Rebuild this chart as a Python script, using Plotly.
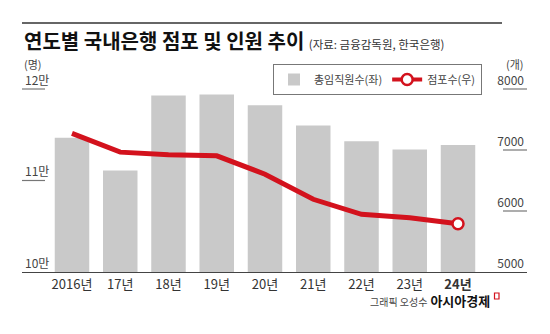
import plotly.graph_objects as go

years = ["2016", "2017", "2018", "2019", "2020", "2021", "2022", "2023", "2024"]
year_labels = ["2016년", "17년", "18년", "19년", "20년", "21년", "22년", "23년", "<b>24년</b>"]
employees = [114670, 111090, 119290, 119400, 118230, 116010, 114300, 113390, 113882]
branches = [7273, 6965, 6924, 6905, 6604, 6192, 5946, 5891, 5792]
left_ticks = [100000, 110000, 120000]
left_tick_text = ["10만", "11만", "12만"]
right_ticks = [5000, 6000, 7000, 8000]
right_tick_text = ["5000", "6000", "7000", "8000"]

FONT = "Noto Sans CJK KR"
RED = "#d3121d"
GRAY = "#c9c9c9"

# pixel helpers (plot area: x 22..527, y 60..272; value 12만/8000 sits at y=89)
L, R, T, B = 22, 527, 60, 272
def px(x):
    return (x - L) / (R - L)
def py(y):
    return (B - y) / (B - T)

Y_TOP = 100000 + (B - T) / (B - 89) * 20000
Y2_TOP = 5000 + (B - T) / (B - 89) * 3000

fig = go.Figure()
fig.add_trace(go.Bar(
    x=years, y=employees, name="총임직원수(좌)", marker_color=GRAY,
    marker_line_width=0, yaxis="y", hoverinfo="skip",
))
fig.add_trace(go.Scatter(
    x=years, y=branches, mode="lines", yaxis="y2", showlegend=False,
    line=dict(color=RED, width=5), hoverinfo="skip",
))
fig.add_trace(go.Scatter(
    x=years[-1:], y=branches[-1:], mode="lines+markers", yaxis="y2",
    name="점포수(우)", line=dict(color=RED, width=4),
    marker=dict(size=11, color="white", line=dict(color=RED, width=2.5)),
    hoverinfo="skip",
))

fig.update_layout(
    width=550, height=334,
    margin=dict(l=L, r=550 - R, t=T, b=334 - B, pad=0),
    paper_bgcolor="white", plot_bgcolor="white",
    font=dict(family=FONT, color="#333", size=12),
    bargap=0.285,
    showlegend=True,
    legend=dict(
        orientation="h", x=px(273), y=py(64), xanchor="left", yanchor="top",
        bordercolor="#777", borderwidth=1, bgcolor="white",
        font=dict(size=11, color="#444", family=FONT),
        itemwidth=30, tracegroupgap=0, traceorder="normal",
    ),
    xaxis=dict(
        type="category", categoryorder="array", categoryarray=years,
        range=[-1.036, 9.43],
        tickvals=years, ticktext=year_labels,
        tickfont=dict(size=13, color="#333"),
        showline=True, linecolor="#444", linewidth=1,
        ticks="", showgrid=False, zeroline=False, fixedrange=True,
    ),
    yaxis=dict(
        range=[100000, Y_TOP],
        tickvals=left_ticks, ticktext=left_tick_text,
        ticklabelposition="inside top", ticks="",
        tickfont=dict(size=12, color="#444"),
        showgrid=False, zeroline=False, showline=False,
    ),
    yaxis2=dict(
        range=[5000, Y2_TOP], overlaying="y", side="right",
        tickvals=right_ticks, ticktext=right_tick_text,
        ticklabelposition="inside top", ticks="",
        tickfont=dict(size=12, color="#444"),
        showgrid=False, zeroline=False, showline=False,
    ),
)

annotations = [
    dict(xref="paper", yref="paper", x=px(22), y=py(40), xanchor="left", yanchor="middle",
         text="<b>연도별 국내은행 점포 및 인원 추이</b> <span style='font-size:11.5px;color:#333'>(자료: 금융감독원, 한국은행)</span>",
         font=dict(size=20, color="#111", family=FONT), showarrow=False),
    dict(xref="paper", yref="paper", x=px(22), y=py(64), xanchor="left", yanchor="middle",
         text="(명)", font=dict(size=11, color="#444"), showarrow=False),
    dict(xref="paper", yref="paper", x=px(526), y=py(64), xanchor="right", yanchor="middle",
         text="(개)", font=dict(size=11, color="#444"), showarrow=False),
    dict(xref="x", yref="y", x=years[-1], y=employees[-1], xanchor="center", yanchor="bottom",
         yshift=2, text="11만3882", font=dict(size=18, color="#111"), showarrow=False),
    dict(xref="x", yref="y2", x=years[-1], y=branches[-1], xanchor="center", yanchor="bottom",
         yshift=9, text="5792", font=dict(size=18, color=RED), showarrow=False),
    dict(xref="paper", yref="paper", x=px(492), y=py(300), xanchor="right", yanchor="middle",
         text="<span style='font-size:10px;color:#444'>그래픽 오성수</span> <b>아시아경제</b>",
         font=dict(size=13, color="#111"), showarrow=False),
]
fig.update_layout(annotations=annotations)

shapes = [
    dict(type="rect", xref="paper", yref="paper", x0=px(22), x1=px(502), y0=py(23.8), y1=py(22.3),
         line=dict(width=0), fillcolor="#333"),
    dict(type="rect", xref="paper", yref="paper", x0=px(494.5), x1=px(499), y0=py(299), y1=py(293),
         line=dict(color=RED, width=1.2), fillcolor="white"),
]
for v in left_ticks[1:]:
    y_px = B - (v - 100000) / (Y_TOP - 100000) * (B - T)
    shapes.append(dict(type="rect", xref="paper", yref="paper", x0=px(22), x1=px(45),
                       y0=py(y_px + 0.6), y1=py(y_px - 0.6), layer="above",
                       line=dict(width=0), fillcolor="#777"))
for v in right_ticks[1:]:
    y_px = B - (v - 5000) / (Y2_TOP - 5000) * (B - T)
    shapes.append(dict(type="rect", xref="paper", yref="paper", x0=px(503), x1=px(527),
                       y0=py(y_px + 0.6), y1=py(y_px - 0.6), layer="above",
                       line=dict(width=0), fillcolor="#777"))
fig.update_layout(shapes=shapes)

fig.write_html("out.html")
